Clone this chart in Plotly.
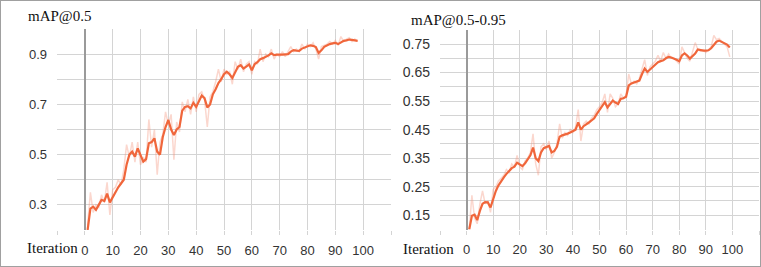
import plotly.graph_objects as go

# ---------------- data ----------------
iter_a = list(range(1, 99))
map50_smooth = [0.20, 0.285, 0.293, 0.28, 0.30, 0.32, 0.315, 0.345, 0.31, 0.33,
                0.355, 0.37, 0.385, 0.40, 0.46, 0.50, 0.512, 0.492, 0.525, 0.495,
                0.472, 0.482, 0.545, 0.55, 0.565, 0.512, 0.50, 0.57, 0.61, 0.638,
                0.60, 0.578, 0.60, 0.61, 0.675, 0.69, 0.693, 0.684, 0.706, 0.69,
                0.715, 0.735, 0.725, 0.688, 0.70, 0.74, 0.76, 0.785, 0.80, 0.82,
                0.83, 0.82, 0.805, 0.83, 0.85, 0.856, 0.843, 0.85, 0.859, 0.836,
                0.86, 0.868, 0.88, 0.884, 0.889, 0.895, 0.903, 0.896, 0.898, 0.897,
                0.898, 0.899, 0.90, 0.91, 0.916, 0.914, 0.913, 0.922, 0.926, 0.93,
                0.935, 0.933, 0.928, 0.905, 0.915, 0.929, 0.935, 0.94, 0.943, 0.945,
                0.94, 0.948, 0.953, 0.955, 0.958, 0.957, 0.955, 0.953]
map50_raw = [0.22, 0.35, 0.27, 0.30, 0.29, 0.34, 0.31, 0.39, 0.26, 0.36,
             0.37, 0.40, 0.38, 0.44, 0.54, 0.49, 0.55, 0.47, 0.55, 0.46,
             0.49, 0.47, 0.64, 0.53, 0.60, 0.42, 0.55, 0.58, 0.67, 0.62,
             0.66, 0.48, 0.63, 0.59, 0.71, 0.67, 0.72, 0.66, 0.73, 0.67,
             0.74, 0.75, 0.72, 0.61, 0.73, 0.75, 0.79, 0.84, 0.79, 0.84,
             0.82, 0.83, 0.78, 0.87, 0.84, 0.88, 0.83, 0.86, 0.87, 0.82,
             0.87, 0.86, 0.92, 0.87, 0.90, 0.89, 0.92, 0.88, 0.90, 0.89,
             0.91, 0.89, 0.91, 0.93, 0.91, 0.92, 0.91, 0.94, 0.92, 0.94,
             0.93, 0.945, 0.92, 0.88, 0.93, 0.935, 0.94, 0.95, 0.94, 0.955,
             0.935, 0.97, 0.95, 0.96, 0.965, 0.95, 0.96, 0.95]

iter_b = list(range(1, 100))
map5095_smooth = [0.10, 0.148, 0.152, 0.133, 0.165, 0.19, 0.196, 0.195, 0.177, 0.21,
                  0.235, 0.255, 0.27, 0.283, 0.295, 0.307, 0.315, 0.32, 0.334, 0.328,
                  0.322, 0.332, 0.345, 0.36, 0.387, 0.35, 0.34, 0.37, 0.385, 0.39,
                  0.393, 0.37, 0.375, 0.39, 0.425, 0.43, 0.432, 0.436, 0.44, 0.445,
                  0.45, 0.475, 0.45, 0.462, 0.47, 0.475, 0.482, 0.49, 0.505, 0.52,
                  0.535, 0.546, 0.528, 0.54, 0.552, 0.545, 0.54, 0.558, 0.56, 0.565,
                  0.605, 0.612, 0.615, 0.618, 0.622, 0.645, 0.664, 0.652, 0.66, 0.67,
                  0.678, 0.686, 0.69, 0.693, 0.70, 0.705, 0.703, 0.70, 0.695, 0.69,
                  0.71, 0.717, 0.71, 0.699, 0.708, 0.717, 0.731, 0.728, 0.727, 0.727,
                  0.728, 0.735, 0.748, 0.758, 0.762, 0.757, 0.754, 0.748, 0.738]
map5095_raw = [0.10, 0.22, 0.14, 0.12, 0.19, 0.235, 0.19, 0.20, 0.16, 0.24,
               0.25, 0.27, 0.28, 0.29, 0.31, 0.30, 0.33, 0.32, 0.36, 0.32,
               0.31, 0.34, 0.35, 0.37, 0.435, 0.33, 0.29, 0.39, 0.40, 0.38,
               0.41, 0.35, 0.37, 0.40, 0.47, 0.42, 0.44, 0.43, 0.45, 0.44,
               0.46, 0.52, 0.41, 0.47, 0.48, 0.47, 0.49, 0.50, 0.52, 0.53,
               0.545, 0.575, 0.51, 0.575, 0.56, 0.53, 0.54, 0.575, 0.56, 0.57,
               0.645, 0.61, 0.62, 0.61, 0.63, 0.66, 0.695, 0.64, 0.67, 0.68,
               0.69, 0.71, 0.69, 0.72, 0.70, 0.715, 0.70, 0.70, 0.69, 0.68,
               0.74, 0.72, 0.70, 0.69, 0.72, 0.755, 0.73, 0.725, 0.73, 0.72,
               0.73, 0.74, 0.78, 0.765, 0.77, 0.76, 0.75, 0.74, 0.705]

x_ticks = [-10, 0, 10, 20, 30, 40, 50, 60, 70, 80, 90, 100, 110]
x_labels = ["", "0", "10", "20", "30", "40", "50", "60", "70", "80", "90", "100", ""]
ya_ticks = [0.2, 0.3, 0.4, 0.5, 0.6, 0.7, 0.8, 0.9, 1.0]
ya_labels = ["", "0.3", "", "0.5", "", "0.7", "", "0.9", ""]
yb_ticks = [0.10, 0.15, 0.20, 0.25, 0.30, 0.35, 0.40, 0.45, 0.50, 0.55, 0.60, 0.65, 0.70, 0.75, 0.80]
yb_labels = ["", "0.15", "", "0.25", "", "0.35", "", "0.45", "", "0.55", "", "0.65", "", "0.75", ""]

# ---------------- figure ----------------
W, H = 761, 267
def px(x):
    return x / W
def py(y):
    return (H - y) / H

RAW = "rgba(244,150,125,0.38)"
SMOOTH = "#f0663b"
GRID = "#d4d4d4"
ZERO = "#9a9a9a"
SANS = "Liberation Sans, Arial, sans-serif"
SERIF = "Liberation Serif, Times New Roman, serif"

fig = go.Figure()
fig.add_trace(go.Scatter(x=iter_a, y=map50_raw, mode="lines", line=dict(color=RAW, width=1.5),
                         xaxis="x", yaxis="y", showlegend=False, hoverinfo="skip"))
fig.add_trace(go.Scatter(x=iter_a, y=map50_smooth, mode="lines", line=dict(color=SMOOTH, width=2.2),
                         xaxis="x", yaxis="y", showlegend=False))
fig.add_trace(go.Scatter(x=iter_b, y=map5095_raw, mode="lines", line=dict(color=RAW, width=1.5),
                         xaxis="x2", yaxis="y2", showlegend=False, hoverinfo="skip"))
fig.add_trace(go.Scatter(x=iter_b, y=map5095_smooth, mode="lines", line=dict(color=SMOOTH, width=2.2),
                         xaxis="x2", yaxis="y2", showlegend=False))

xcommon = dict(tickmode="array", tickvals=x_ticks, ticktext=x_labels, showgrid=True,
               gridcolor=GRID, gridwidth=1, zeroline=True, zerolinecolor=ZERO, zerolinewidth=2,
               showline=False, ticks="outside", ticklen=4, tickcolor=GRID,
               tickfont=dict(family=SANS, size=13, color="#333"), ticklabelstandoff=4,
               range=[-10, 110], fixedrange=True)
ycommon = dict(tickmode="array", showgrid=True, gridcolor=GRID, gridwidth=1, zeroline=False,
               showline=False, ticks="", ticklabelstandoff=9, fixedrange=True)

fig.update_layout(
    width=W, height=H, margin=dict(l=0, r=0, t=0, b=0),
    paper_bgcolor="white", plot_bgcolor="white",
    xaxis=dict(domain=[px(57), px(391)], anchor="y", **xcommon),
    yaxis=dict(domain=[py(230), py(29)], anchor="x", range=[0.2, 1.0], tickvals=ya_ticks,
               ticktext=ya_labels, tickfont=dict(family=SANS, size=13, color="#333"), **ycommon),
    xaxis2=dict(domain=[px(440), px(759)], anchor="y2", **xcommon),
    yaxis2=dict(domain=[py(229.5), py(29.75)], anchor="x2", range=[0.10, 0.80], tickvals=yb_ticks,
                ticktext=yb_labels, tickfont=dict(family=SANS, size=14, color="#333"), **ycommon),
    annotations=[
        dict(text="mAP@0.5", x=px(26), y=py(16), xref="paper", yref="paper", xanchor="left",
             yanchor="middle", showarrow=False, font=dict(family=SERIF, size=15, color="#111")),
        dict(text="mAP@0.5-0.95", x=px(409), y=py(20), xref="paper", yref="paper", xanchor="left",
             yanchor="middle", showarrow=False, font=dict(family=SERIF, size=15, color="#111")),
        dict(text="Iteration", x=px(25), y=py(248), xref="paper", yref="paper", xanchor="left",
             yanchor="middle", showarrow=False, font=dict(family=SERIF, size=15, color="#111")),
        dict(text="Iteration", x=px(401), y=py(249), xref="paper", yref="paper", xanchor="left",
             yanchor="middle", showarrow=False, font=dict(family=SERIF, size=15, color="#111")),
    ],
    shapes=[dict(type="rect", xref="paper", yref="paper", x0=0, x1=1, y0=0, y1=1,
                 line=dict(color="#a0a0a0", width=2), layer="above")],
)

fig.write_html("out.html", config={"displayModeBar": False},
               post_script="document.body.style.margin='0';document.body.style.overflow='hidden';")
